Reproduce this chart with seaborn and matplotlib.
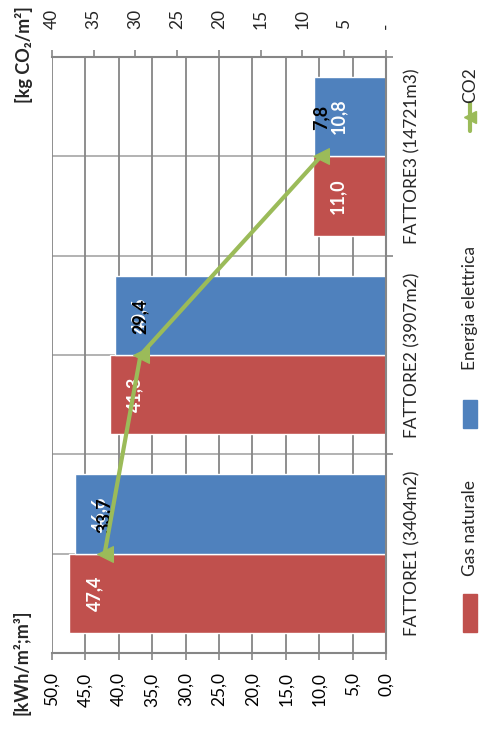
import matplotlib
matplotlib.use("Agg")
import matplotlib.pyplot as plt
import pandas as pd
import seaborn as sns
from matplotlib.patches import Rectangle
from matplotlib.lines import Line2D

# ---- data -------------------------------------------------------------
categories = ["FATTORE1 (3404m2)", "FATTORE2 (3907m2)", "FATTORE3 (14721m3)"]
gas_naturale = [47.4, 41.3, 11.0]
energia_elettrica = [46.6, 40.6, 10.8]
co2 = [33.7, 29.4, 7.8]
series_names = ["Gas naturale", "Energia elettrica", "CO2"]
kwh_ticks = [0, 5, 10, 15, 20, 25, 30, 35, 40, 45, 50]
co2_ticks = [0, 5, 10, 15, 20, 25, 30, 35, 40]
kwh_title = "[kWh/m²;m³]"
co2_title = "[kg CO₂/m²]"

RED = "#C0504D"
BLUE = "#4F81BD"
GREEN = "#9BBB59"
GRID = "#868686"


def it_num(v):
    return f"{v:.1f}".replace(".", ",")


sns.set_theme(style="white")
plt.rcParams["font.family"] = ["Lato", "DejaVu Sans"]

W, H, DPI = 486, 751, 100
fig = plt.figure(figsize=(W / DPI, H / DPI), dpi=DPI)


def fx(px):
    return px / W


def fy(py):
    return 1 - py / H


ax = fig.add_axes([fx(52), fy(653), fx(386) - fx(52), fy(57) - fy(653)])

df = pd.DataFrame({
    "categoria": categories * 2,
    "serie": [series_names[0]] * 3 + [series_names[1]] * 3,
    "valore": gas_naturale + energia_elettrica,
})
sns.barplot(data=df, x="valore", y="categoria", hue="serie", order=categories,
            hue_order=series_names[:2], palette=[RED, BLUE], orient="h",
            width=0.8, saturation=1, legend=False, ax=ax, zorder=2)

ax.set_ylim(-0.5, 2.5)
ax.set_xlim(50, 0)
ax.set_xlabel("")
ax.set_ylabel("")
ax.set_axisbelow(True)

# value axis (kWh) along the bottom
ax.set_xticks(kwh_ticks)
ax.set_xticklabels([it_num(v) for v in kwh_ticks], rotation=90)
ax.tick_params(axis="x", which="major", bottom=True, top=False, length=5,
               width=1.2, color=GRID, pad=9, labelsize=12.5, labelcolor="black")
ax.grid(axis="x", color=GRID, lw=1.3)
ax.grid(axis="y", visible=False)
for yy in [0, 0.5, 1, 1.5, 2]:
    ax.axhline(yy, color="#A6A6A6", lw=1.2, zorder=0.5)

# category axis on the right
ax.set_yticks([0, 1, 2])
ax.set_yticklabels(categories, rotation=90, va="center")
ax.set_yticks([0.5, 1.5, 2.5], minor=True)
ax.tick_params(axis="y", which="major", left=False, right=True, labelleft=False,
               labelright=True, length=0, pad=13, labelsize=12.5)
ax.tick_params(axis="y", which="minor", left=False, right=True, length=5,
               width=1.2, color=GRID)

for side in ["top", "left"]:
    ax.spines[side].set_visible(False)
for side in ["bottom", "right"]:
    ax.spines[side].set_color(GRID)
    ax.spines[side].set_linewidth(1.5)

# bar value labels
for i, (g, e) in enumerate(zip(gas_naturale, energia_elettrica)):
    for val, pos in [(g, i - 0.2), (e, i + 0.2)]:
        ax.annotate(it_num(val), xy=(val, pos), xytext=(18, 0),
                    textcoords="offset points", rotation=90, ha="center",
                    va="center", color="white", fontweight="bold", fontsize=13)

# CO2 on the secondary axis along the top
ax2 = ax.twiny()
sns.lineplot(x=co2, y=[0, 1, 2], orient="y", sort=False, color=GREEN, lw=3,
             marker="<", markersize=11, markeredgecolor=GREEN, ax=ax2, zorder=5)
ax2.set_xlim(40, 0)
ax2.set_ylim(-0.5, 2.5)
ax2.set_xticks(co2_ticks)
ax2.set_xticklabels(["-" if v == 0 else str(v) for v in co2_ticks], rotation=90)
ax2.tick_params(axis="x", top=True, bottom=False, labeltop=True,
                labelbottom=False, length=5, width=1.2, color=GRID, pad=15,
                labelsize=12.5)
ax2.grid(False)
for side in ["bottom", "left", "right"]:
    ax2.spines[side].set_visible(False)
ax2.spines["top"].set_color(GRID)
ax2.spines["top"].set_linewidth(1.5)

for i, c in enumerate(co2):
    ax2.annotate(it_num(c), xy=(c, i), xytext=(0, 28), textcoords="offset points",
                 rotation=90, ha="center", va="center", color="black",
                 fontweight="bold", fontsize=13)

# axis titles
fig.text(fx(22), fy(662), kwh_title, rotation=90, ha="center", va="center",
         fontweight="bold", fontsize=13)
fig.text(fx(24), fy(55), co2_title, rotation=90, ha="center", va="center",
         fontweight="bold", fontsize=13)

# legend
fig.add_artist(Rectangle((fx(463), fy(632)), fx(14), 38 / H, color=RED,
                         transform=fig.transFigure))
fig.text(fx(470), fy(528), series_names[0], rotation=90, ha="center",
         va="center", fontsize=12.5)
fig.add_artist(Rectangle((fx(463), fy(428)), fx(14), 28 / H, color=BLUE,
                         transform=fig.transFigure))
fig.text(fx(470), fy(308), series_names[1], rotation=90, ha="center",
         va="center", fontsize=12.5)
fig.add_artist(Line2D([fx(470), fx(470)], [fy(103), fy(131)], color=GREEN, lw=3,
                      transform=fig.transFigure))
fig.add_artist(Line2D([fx(470)], [fy(117)], color=GREEN, marker="<",
                      markersize=9, transform=fig.transFigure))
fig.text(fx(470), fy(85), series_names[2], rotation=90, ha="center",
         va="center", fontsize=12.5)

fig.savefig("out.png", dpi=DPI)
